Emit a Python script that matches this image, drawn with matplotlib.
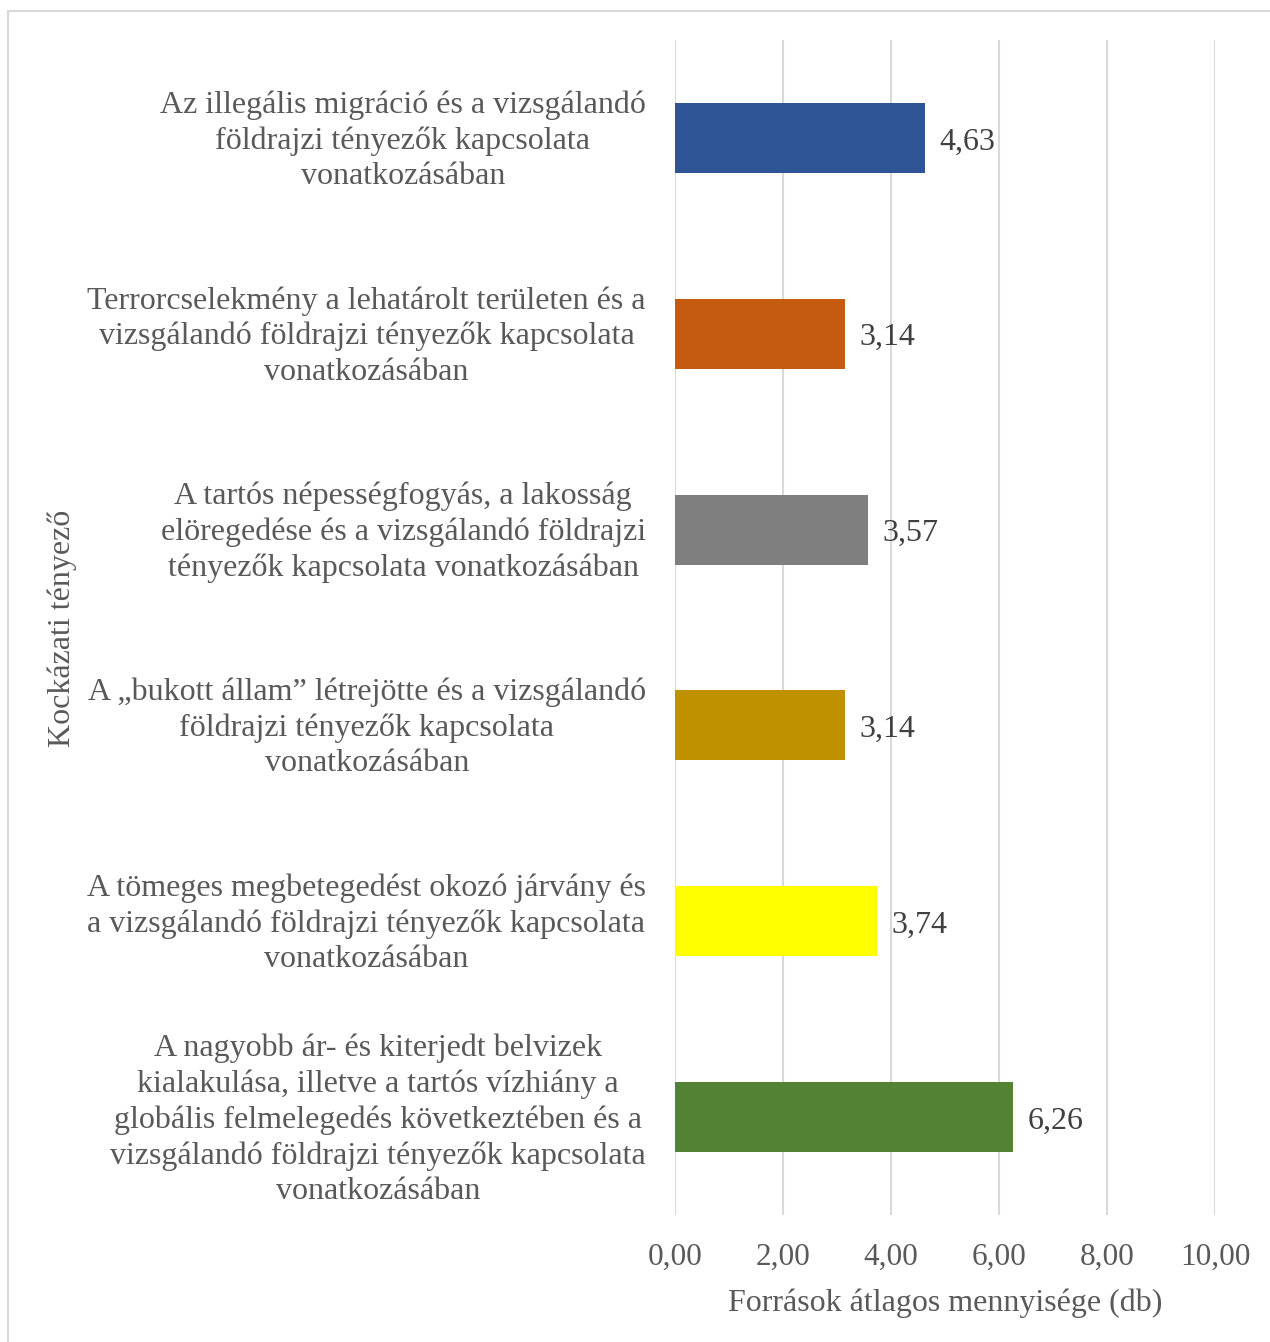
import numpy as np
import matplotlib
matplotlib.use("Agg")
import matplotlib.pyplot as plt
from matplotlib.patches import Rectangle
from matplotlib.transforms import ScaledTranslation

categories = [
    "Az illegális migráció és a vizsgálandó\nföldrajzi tényezők kapcsolata\nvonatkozásában",
    "Terrorcselekmény a lehatárolt területen és a\nvizsgálandó földrajzi tényezők kapcsolata\nvonatkozásában",
    "A tartós népességfogyás, a lakosság\nelöregedése és a vizsgálandó földrajzi\ntényezők kapcsolata vonatkozásában",
    "A \u201ebukott állam\u201d létrejötte és a vizsgálandó\nföldrajzi tényezők kapcsolata\nvonatkozásában",
    "A tömeges megbetegedést okozó járvány és\na vizsgálandó földrajzi tényezők kapcsolata\nvonatkozásában",
    "A nagyobb ár- és kiterjedt belvizek\nkialakulása, illetve a tartós vízhiány a\nglobális felmelegedés következtében és a\nvizsgálandó földrajzi tényezők kapcsolata\nvonatkozásában",
]
values = [4.63, 3.14, 3.57, 3.14, 3.74, 6.26]
colors = ["#2F5597", "#C55A11", "#7F7F7F", "#BF9000", "#FFFF00", "#548235"]
xticks = [0, 2, 4, 6, 8, 10]

plt.rcParams['font.family'] = ['Liberation Serif', 'DejaVu Serif']
FS = 23

fig = plt.figure(figsize=(12.7, 13.42), dpi=100)
ax = fig.add_axes([675/1270, 1 - 1215/1342, 540/1270, 1175/1342])

# border around the chart
fig.patches.append(Rectangle((8/1270, -0.05), 1.1, 1 - 11/1342 + 0.05,
                             transform=fig.transFigure, fill=False,
                             edgecolor="#D9D9D9", linewidth=1.5))

y = np.arange(len(values))
ax.barh(y, values, height=0.357, color=colors, zorder=3)
ax.set_ylim(len(values) - 0.5, -0.5)
ax.set_xlim(0, 10)

down = ScaledTranslation(0, -0.04, fig.dpi_scale_trans)
up = ScaledTranslation(0, 0.04, fig.dpi_scale_trans)

for yi, v in zip(y, values):
    ax.text(v + 0.27, yi, f"{v:.2f}".replace(".", ","), va="center", ha="left",
            fontsize=FS, color="#404040", transform=ax.transData + down)

ax.set_xticks(xticks)
ax.set_xticklabels([f"{t:.2f}".replace(".", ",") for t in xticks],
                   fontsize=FS - 0.5, color="#595959")
ax.set_yticks(y)
ax.set_yticklabels(categories, fontsize=FS, color="#595959",
                   ha="right", multialignment="center", linespacing=1.28)
ax.tick_params(axis="y", length=0, pad=21)
ax.tick_params(axis="x", length=0, pad=20)
for lab in ax.get_yticklabels():
    lab.set_transform(lab.get_transform() + up)

ax.xaxis.grid(True, color="#D9D9D9", linewidth=1.5, zorder=0)
for s in ax.spines.values():
    s.set_visible(False)

ax.set_xlabel("Források átlagos mennyisége (db)", fontsize=FS,
              color="#595959", labelpad=12)
fig.text(62/1270, 1 - 628/1342, "Kockázati tényező", rotation=90,
         ha="center", va="center", fontsize=FS, color="#595959")

fig.savefig("out.png", dpi=100)
